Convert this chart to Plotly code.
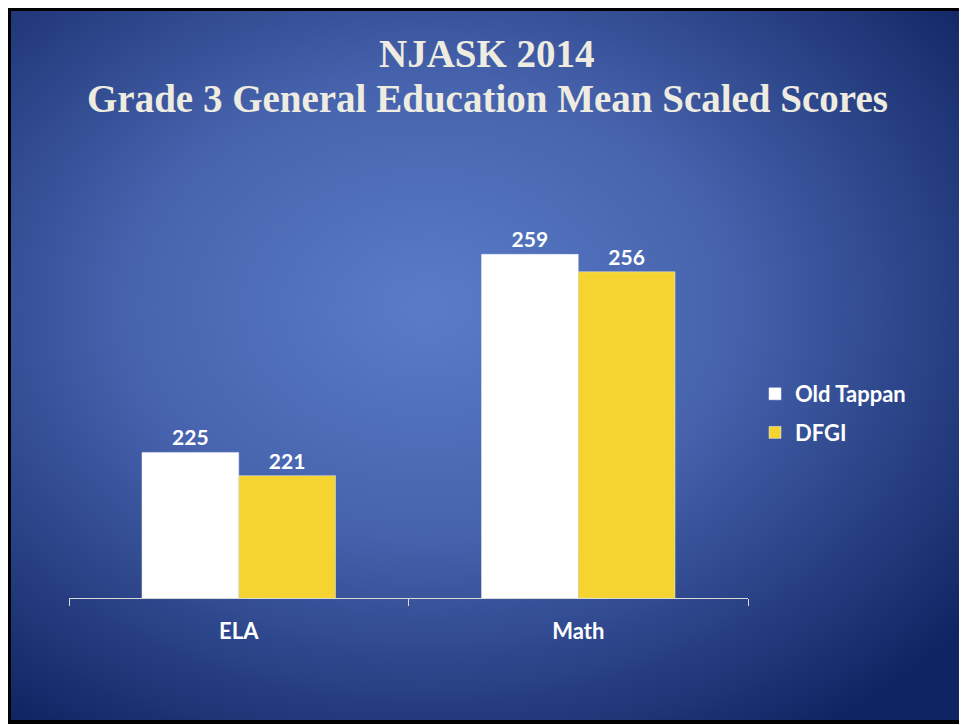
import base64
import plotly.graph_objects as go

categories = ["ELA", "Math"]
old_tappan = [225, 259]
dfgi = [221, 256]
series_names = ["Old Tappan", "DFGI"]
title_lines = ["NJASK 2014", "Grade 3 General Education Mean Scaled Scores"]

W, H = 967, 725
OFF = 8  # page body margin offset
ml, mt = 69 - OFF, 132 - OFF
plot_right, plot_bottom = 748 - OFF, 598 - OFF
mr, mb = W - plot_right, H - plot_bottom
pw, ph = W - ml - mr, H - mt - mb


def px_x(x):
    return (x - OFF - ml) / pw


def px_y(y):
    return 1 - (y - OFF - mt) / ph


svg = f'''<svg xmlns="http://www.w3.org/2000/svg" width="{W}" height="{H}" viewBox="0 0 {W} {H}">
<defs><radialGradient id="g" cx="0.44" cy="0.42" r="0.72" fx="0.44" fy="0.42">
<stop offset="0" stop-color="#5A7CC8"/>
<stop offset="0.45" stop-color="#4662AC"/>
<stop offset="1" stop-color="#0F2462"/>
</radialGradient></defs>
<rect x="0" y="0" width="{W}" height="{H}" fill="#FFFFFF"/>
<rect x="7" y="7" width="956" height="715" fill="url(#g)" stroke="#000000" stroke-width="4"/>
<rect x="8" y="8" width="3" height="714" fill="#000000"/>
<rect x="8" y="8" width="955" height="3" fill="#000000"/>
</svg>'''
src = "data:image/svg+xml;base64," + base64.b64encode(svg.encode()).decode()

label_font = dict(color="#FFFFFF", size=21, family="Lato", weight="bold")

fig = go.Figure()
fig.add_trace(go.Bar(x=categories, y=old_tappan, name=series_names[0], marker_color="#FFFFFF",
                     texttemplate="%{y}", textposition="outside", legendgroup="a",
                     textfont=label_font, cliponaxis=False))
fig.add_trace(go.Bar(x=categories, y=dfgi, name=series_names[1], marker_color="#F5D431",
                     texttemplate="%{y}", textposition="outside", legendgroup="b",
                     textfont=label_font, cliponaxis=False))

title_font = dict(family="Liberation Serif", size=39, color="#EEECE1", weight="bold")
annotations = [
    dict(text=title_lines[0], x=px_x(487), y=px_y(53), xref="paper", yref="paper",
         xanchor="center", yanchor="middle", showarrow=False, font=title_font),
    dict(text=title_lines[1], x=px_x(487), y=px_y(98), xref="paper", yref="paper",
         xanchor="center", yanchor="middle", showarrow=False, font=title_font),
]

fig.update_layout(
    width=W, height=H,
    margin=dict(l=ml, r=mr, t=mt, b=mb),
    paper_bgcolor="rgba(0,0,0,0)", plot_bgcolor="rgba(0,0,0,0)",
    barmode="group", bargap=0.43, bargroupgap=0,
    annotations=annotations,
    legend=dict(x=px_x(755), y=px_y(373), xanchor="left", yanchor="top",
                font=dict(family="Lato", size=22, color="#FFFFFF", weight="bold"),
                bgcolor="rgba(0,0,0,0)", tracegroupgap=7),
    showlegend=True,
    images=[dict(source=src, xref="paper", yref="paper", x=px_x(0), y=px_y(0),
                 sizex=W / pw, sizey=H / ph, xanchor="left", yanchor="top",
                 sizing="stretch", layer="below")],
    xaxis=dict(type="category", tickson="boundaries", ticks="outside", ticklen=7,
               tickcolor="#D9D9D9", showline=True, linecolor="#D9D9D9", linewidth=1,
               showgrid=False, zeroline=False, ticklabelstandoff=14,
               tickfont=dict(family="Lato", size=22, color="#FFFFFF", weight="bold")),
    yaxis=dict(range=[200, 280], visible=False, showgrid=False),
)
fig.write_html("out.html")
